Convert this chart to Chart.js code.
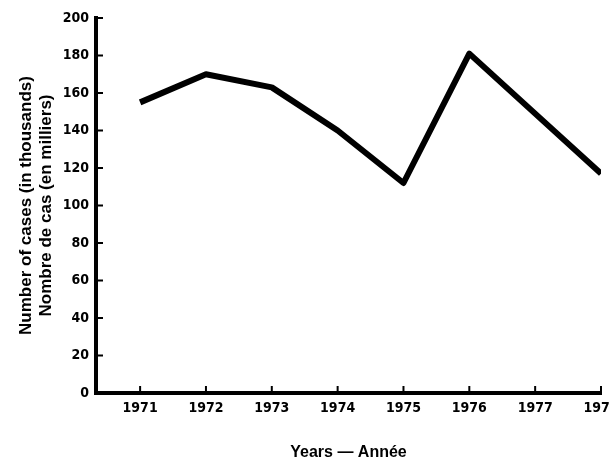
<!DOCTYPE html>
<html>
<head>
<meta charset="utf-8">
<script src="https://cdn.jsdelivr.net/npm/chart.js@4.4.0/dist/chart.umd.min.js"></script>
<style>
  html, body { margin: 0; padding: 0; background: #fff; }
  #wrap { width: 609px; height: 460px; }
</style>
</head>
<body>
<div id="wrap"><canvas id="chart" width="609" height="460"></canvas></div>
<script>
// ── DATA ─────────────────────────────────────────────
const years = [1971, 1972, 1973, 1974, 1975, 1976, 1977, 1978];
const cases = [155, 170, 163, 140, 112, 181, 149, 117];   // thousands
const yTitle = ['Number of cases (in thousands)', 'Nombre de cas (en milliers)'];
const xTitle = 'Years \u2014 Ann\u00e9e';

const tickFont  = { family: "'Liberation Sans Narrow', 'DejaVu Sans Condensed', Arial, sans-serif", size: 14, weight: 'bold' };
const titleFont = { family: "'Liberation Sans', Arial, sans-serif", size: 17, weight: 'bold' };

// inward tick marks, like the printed figure
const innerTicks = {
  id: 'innerTicks',
  afterDraw(chart) {
    const { ctx, chartArea: a, scales: { x, y } } = chart;
    ctx.save();
    ctx.strokeStyle = '#000';
    ctx.lineWidth = 2;
    ctx.beginPath();
    for (const t of y.ticks) {
      const py = y.getPixelForValue(t.value);
      ctx.moveTo(a.left, py);
      ctx.lineTo(a.left + 7, py);
    }
    for (const t of x.ticks) {
      const px = x.getPixelForValue(t.value);
      ctx.moveTo(px, a.bottom);
      ctx.lineTo(px, a.bottom - 7);
    }
    ctx.stroke();
    ctx.restore();
  }
};

new Chart(document.getElementById('chart'), {
  type: 'line',
  data: {
    datasets: [{
      data: years.map((yr, i) => ({ x: yr, y: cases[i] })),
      borderColor: '#000',
      borderWidth: 6,
      borderJoinStyle: 'round',
      pointRadius: 0,
      tension: 0,
      fill: false,
    }],
  },
  options: {
    responsive: false,
    animation: false,
    layout: { padding: { left: 12, right: 8, top: 18, bottom: 0 } },
    plugins: { legend: { display: false }, tooltip: { enabled: false } },
    scales: {
      x: {
        type: 'linear',
        min: 1970.33,
        max: 1978,
        afterBuildTicks: s => { s.ticks = years.map(v => ({ value: v })); },
        afterFit: s => { s.paddingLeft = 0; s.paddingRight = 0; s.height = 67; },
        grid: { display: false, drawTicks: false },
        border: { display: true, color: '#000', width: 4 },
        ticks: { font: tickFont, color: '#000', padding: 7, maxRotation: 0, callback: v => String(v) },
        title: { display: true, text: xTitle, font: { ...titleFont, size: 16 }, color: '#000', padding: { top: 4, bottom: -2 } },
      },
      y: {
        min: 0,
        max: 200,
        afterFit: s => { s.width = 84; },
        grid: { display: false, drawTicks: false },
        border: { display: true, color: '#000', width: 4 },
        ticks: { stepSize: 20, font: tickFont, color: '#000', padding: 7 },
        title: { display: true, text: yTitle, font: titleFont, color: '#000', padding: { bottom: 2 } },
      },
    },
  },
  plugins: [innerTicks],
});
</script>
</body>
</html>
